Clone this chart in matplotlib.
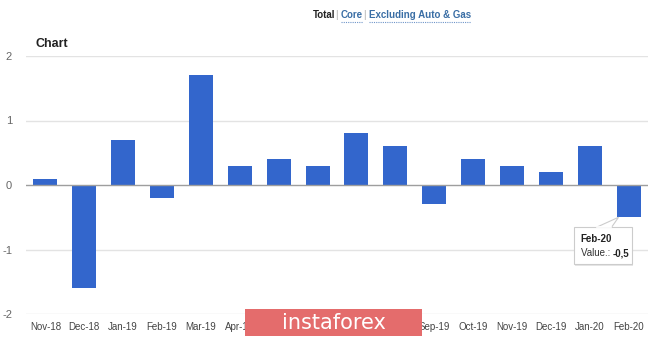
import matplotlib
matplotlib.use("Agg")
import matplotlib.pyplot as plt
from matplotlib.patches import Rectangle, Polygon
from matplotlib.lines import Line2D
from matplotlib.transforms import IdentityTransform

# Monthly change, percent
months = ["Nov-18", "Dec-18", "Jan-19", "Feb-19", "Mar-19", "Apr-19", "May-19", "Jun-19",
          "Jul-19", "Aug-19", "Sep-19", "Oct-19", "Nov-19", "Dec-19", "Jan-20", "Feb-20"]
values = [0.1, -1.6, 0.7, -0.2, 1.7, 0.3, 0.4, 0.3, 0.8, 0.6, -0.3, 0.4, 0.3, 0.2, 0.6, -0.5]
y_ticks = [-2, -1, 0, 1, 2]

W, H = 665, 340
BAR_BLUE = "#3366cc"

plt.rcParams["font.family"] = ["Liberation Sans", "DejaVu Sans"]

fig = plt.figure(figsize=(W / 100, H / 100), dpi=100)
fig.patch.set_facecolor("white")
ax = fig.add_axes([26 / W, (H - 314) / H, (648 - 26) / W, (314 - 56) / H])

x = list(range(len(months)))
ax.bar(x, values, width=0.62, color=BAR_BLUE, zorder=3)

ax.set_xlim(-0.5, len(months) - 0.5)
ax.set_ylim(min(y_ticks), max(y_ticks))
for t in y_ticks:
    if t == 0:
        ax.axhline(t, color="#9e9e9e", lw=1.0, zorder=4)
    else:
        ax.axhline(t, color="#e3e3e3", lw=1.0, zorder=1)

for s in ax.spines.values():
    s.set_visible(False)
ax.set_yticks(y_ticks)
ax.set_yticklabels([str(t) for t in y_ticks], color="#666666", fontsize=8)
ax.set_xticks(x)
ax.set_xticklabels(months, color="#444444", fontsize=7)
ax.tick_params(axis="both", length=0)
ax.tick_params(axis="y", pad=10)
ax.tick_params(axis="x", pad=6)

fig.text(36 / W, 1 - 44 / H, "Chart", fontsize=9, fontweight="bold", color="#222222",
         va="center", ha="left")

# header links
parts = [("Total", "#222222", False), ("|", "#aaaaaa", False), ("Core", "#3a6ea5", True),
         ("|", "#aaaaaa", False), ("Excluding Auto & Gas", "#3a6ea5", True)]
fig.canvas.draw()
renderer = fig.canvas.get_renderer()
cx = 313
for label, col, link in parts:
    t = fig.text(cx / W, 1 - 15 / H, label, fontsize=7.0, color=col,
                 fontweight="normal" if label == "|" else "bold", va="center", ha="left")
    bb = t.get_window_extent(renderer)
    if link:
        fig.add_artist(Line2D([bb.x0, bb.x1], [H - 21.5, H - 21.5], transform=IdentityTransform(),
                              color="#6f95c9", lw=0.8, ls=(0, (1, 1))))
    cx = bb.x1 + (3 if label == "|" else 0)

# tooltip attached to the last bar
ax_px, ay_px = ax.transData.transform((x[-1], values[-1]))
bx0, bx1 = ax_px - 55, ax_px + 3
by1, by0 = ay_px - 10, ay_px - 47
fig.add_artist(Rectangle((bx0 + 1.5, by0 - 1.5), bx1 - bx0, by1 - by0, transform=IdentityTransform(),
                         fc="#e6e6e6", ec="none", zorder=10))
fig.add_artist(Rectangle((bx0, by0), bx1 - bx0, by1 - by0, transform=IdentityTransform(),
                         fc="white", ec="#cccccc", lw=0.8, zorder=11))
fig.add_artist(Polygon([(ax_px - 32, by1), (ax_px - 10, ay_px), (ax_px - 17, by1)],
                       closed=False, transform=IdentityTransform(),
                       fc="white", ec="#cccccc", lw=0.8, zorder=12))
fig.add_artist(Line2D([ax_px - 31.5, ax_px - 17.5], [by1, by1], transform=IdentityTransform(),
                      color="white", lw=1.2, zorder=13))
fig.text((bx0 + 7) / W, (by1 - 12) / H, months[-1], fontsize=7, fontweight="bold",
         color="#222222", va="center", ha="left", zorder=14)
vt = fig.text((bx0 + 7) / W, (by1 - 26) / H, "Value.: ", fontsize=7, color="#333333",
              va="center", ha="left", zorder=14)
vb = vt.get_window_extent(renderer)
fig.text(vb.x1 / W, (by1 - 26) / H, f"{values[-1]:.1f}".replace(".", ","), fontsize=7,
         fontweight="bold", color="#222222", va="center", ha="left", zorder=14)

# watermark
fig.add_artist(Rectangle((245 / W, (H - 336) / H), (422 - 245) / W, (336 - 309) / H,
                         transform=fig.transFigure, fc="#e46c6c", ec="none", zorder=20))
fig.text(333.5 / W, 1 - 323 / H, "instaforex", fontsize=15, color="white",
         family=["DejaVu Sans"], va="center", ha="center", zorder=21)

fig.savefig("out.png", dpi=100, facecolor="white")
